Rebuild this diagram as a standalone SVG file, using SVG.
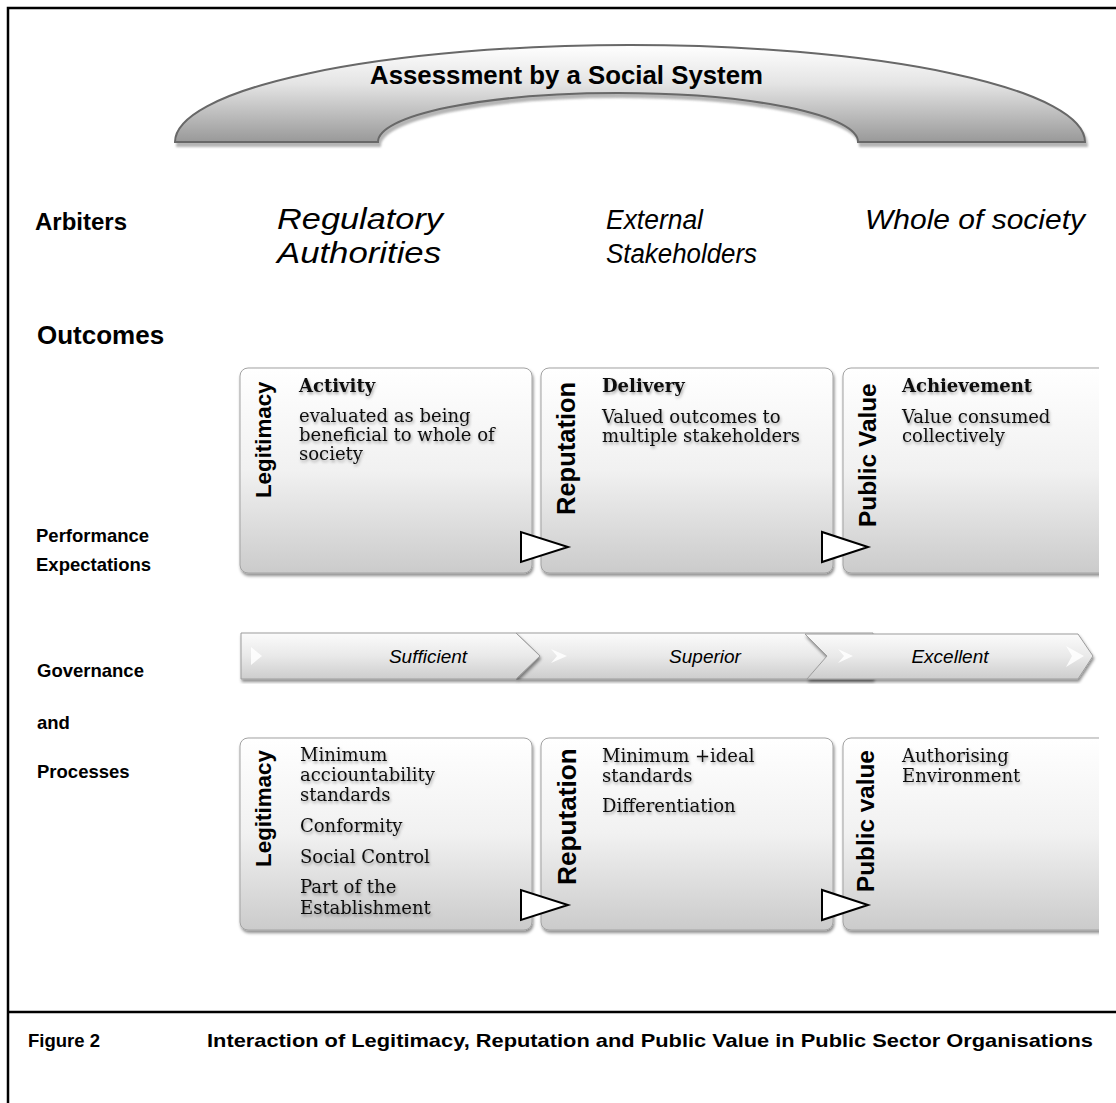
<svg xmlns="http://www.w3.org/2000/svg" width="1116" height="1103" viewBox="0 0 1116 1103">
<defs>
  <linearGradient id="archG" x1="0" y1="0" x2="0" y2="1">
    <stop offset="0" stop-color="#ffffff"/>
    <stop offset="0.4" stop-color="#e4e4e4"/>
    <stop offset="1" stop-color="#999999"/>
  </linearGradient>
  <linearGradient id="boxG" x1="0" y1="0" x2="0" y2="1">
    <stop offset="0" stop-color="#ffffff"/>
    <stop offset="0.5" stop-color="#f1f1f1"/>
    <stop offset="1" stop-color="#cbcbcb"/>
  </linearGradient>
  <linearGradient id="chevG" x1="0" y1="0" x2="0" y2="1">
    <stop offset="0" stop-color="#fbfbfb"/>
    <stop offset="0.5" stop-color="#e9e9e9"/>
    <stop offset="1" stop-color="#cdcdcd"/>
  </linearGradient>
  <filter id="sh" x="-5%" y="-5%" width="112%" height="115%">
    <feDropShadow dx="1" dy="2.5" stdDeviation="1.6" flood-color="#000" flood-opacity="0.45"/>
  </filter>
  <filter id="archSh" x="-5%" y="-10%" width="112%" height="130%">
    <feDropShadow dx="2" dy="4" stdDeviation="0.8" flood-color="#777" flood-opacity="0.55"/>
  </filter>
  <filter id="tsh" x="-10%" y="-30%" width="125%" height="180%">
    <feDropShadow dx="1" dy="2" stdDeviation="1.8" flood-color="#000" flood-opacity="0.35"/>
  </filter>
  <clipPath id="clipR"><rect x="0" y="0" width="1099" height="1103"/></clipPath>
</defs>
<style>
  .sans { font-family: "Liberation Sans", Arial, sans-serif; fill: #000; }
  .b { font-weight: bold; }
  .i { font-style: italic; }
  .vt { font-family: "Liberation Sans", Arial, sans-serif; font-weight: bold; fill: #000; }
  .sr { font-family: "DejaVu Serif", Georgia, serif; font-size: 18px; fill: #111; filter: url(#tsh); }
  .srb { font-weight: bold; }
  .box { fill: url(#boxG); stroke: #a2a2a2; stroke-width: 1; filter: url(#sh); }
  .chev { fill: url(#chevG); stroke: #9c9c9c; stroke-width: 1; filter: url(#sh); }
  .hl { fill: #ffffff; opacity: 0.85; }
  .tri { fill: #ffffff; stroke: #000; stroke-width: 2; stroke-linejoin: miter; }
  .frame { stroke: #000; stroke-width: 2.5; fill: none; }
</style>

<rect x="0" y="0" width="1116" height="1103" fill="#ffffff"/>

<!-- frame -->
<g id="frame">
  <path class="frame" d="M1116,8 H8 V1103"/>
  <path class="frame" d="M8,1012 H1116"/>
</g>

<!-- arch -->
<g id="arch">
  <path d="M175,142 A455,97 0 0 1 1085,142 L858,142 A240,49 0 0 0 378,142 Z" fill="url(#archG)" stroke="#676767" stroke-width="2" filter="url(#archSh)"/>
  <text class="sans b" x="370" y="84" font-size="26" textLength="393" lengthAdjust="spacingAndGlyphs">Assessment by a Social System</text>
</g>

<!-- row labels -->
<g id="row-labels">
  <text class="sans b" x="35" y="230" font-size="24">Arbiters</text>
  <text class="sans b" x="37" y="344" font-size="26">Outcomes</text>
  <text class="sans b" x="36" y="542" font-size="18.5">Performance</text>
  <text class="sans b" x="36" y="571" font-size="18.5">Expectations</text>
  <text class="sans b" x="37" y="677" font-size="18.5">Governance</text>
  <text class="sans b" x="37" y="729" font-size="18.5">and</text>
  <text class="sans b" x="37" y="778" font-size="18.5">Processes</text>
</g>

<g id="arbiters">
  <text class="sans i" x="277" y="229" font-size="29" textLength="166" lengthAdjust="spacingAndGlyphs">Regulatory</text>
  <text class="sans i" x="277" y="263" font-size="29" textLength="164" lengthAdjust="spacingAndGlyphs">Authorities</text>
  <text class="sans i" x="606" y="229" font-size="27" textLength="97" lengthAdjust="spacingAndGlyphs">External</text>
  <text class="sans i" x="606" y="263" font-size="27" textLength="151" lengthAdjust="spacingAndGlyphs">Stakeholders</text>
  <text class="sans i" x="865" y="229" font-size="28" textLength="220" lengthAdjust="spacingAndGlyphs">Whole of society</text>
</g>

<!-- top row boxes -->
<g id="outcome-legitimacy">
  <rect class="box" x="240" y="368" width="292" height="205" rx="8"/>
  <text class="vt" transform="translate(271,498) rotate(-90)" font-size="22.3">Legitimacy</text>
  <text class="sr srb" x="299" y="392">Activity</text>
  <text class="sr" x="299" y="422">evaluated as being</text>
  <text class="sr" x="299" y="441">beneficial to whole of</text>
  <text class="sr" x="299" y="460">society</text>
</g>
<g id="outcome-reputation">
  <rect class="box" x="541" y="368" width="292" height="205" rx="8"/>
  <text class="vt" transform="translate(575,515) rotate(-90)" font-size="25.5">Reputation</text>
  <text class="sr srb" x="602" y="392">Delivery</text>
  <text class="sr" x="602" y="423">Valued outcomes to</text>
  <text class="sr" x="602" y="442">multiple stakeholders</text>
</g>
<g id="outcome-public-value" clip-path="url(#clipR)">
  <rect class="box" x="843" y="368" width="292" height="205" rx="8"/>
  <text class="vt" transform="translate(876,527) rotate(-90)" font-size="24.4">Public Value</text>
  <text class="sr srb" x="902" y="392">Achievement</text>
  <text class="sr" x="902" y="423">Value consumed</text>
  <text class="sr" x="902" y="442">collectively</text>
</g>

<!-- chevron band -->
<g id="chevron-superior">
  <path class="chev" d="M516,633 H873 V679 H516 L540,656 Z"/>
  <polygon class="hl" points="551,649 567,656 551,663 557,656"/>
  <text class="sans i" x="705" y="663" font-size="19" text-anchor="middle">Superior</text>
</g>
<g id="chevron-sufficient">
  <path class="chev" d="M241,633 H516 L540,656 L516,679 H241 Z"/>
  <polygon class="hl" points="251,647 262,656 251,665"/>
  <text class="sans i" x="428" y="663" font-size="19" text-anchor="middle">Sufficient</text>
</g>
<g id="chevron-excellent">
  <path class="chev" d="M805,634 H1078 L1093,656 L1078,679 H807 L827,656 Z"/>
  <polygon class="hl" points="838,649 853,656 838,663 844,656"/>
  <polygon class="hl" points="1066,646 1084,656 1066,667 1072,656" opacity="0.6"/>
  <text class="sans i" x="950" y="663" font-size="19" text-anchor="middle">Excellent</text>
</g>

<!-- bottom row boxes -->
<g id="process-legitimacy">
  <rect class="box" x="240" y="738" width="292" height="192" rx="8"/>
  <text class="vt" transform="translate(271,867) rotate(-90)" font-size="22.4">Legitimacy</text>
  <text class="sr" x="300" y="761">Minimum</text>
  <text class="sr" x="300" y="781">acciountability</text>
  <text class="sr" x="300" y="801">standards</text>
  <text class="sr" x="300" y="832">Conformity</text>
  <text class="sr" x="300" y="863">Social Control</text>
  <text class="sr" x="300" y="893">Part of the</text>
  <text class="sr" x="300" y="914">Establishment</text>
</g>
<g id="process-reputation">
  <rect class="box" x="541" y="738" width="292" height="192" rx="8"/>
  <text class="vt" transform="translate(576,885) rotate(-90)" font-size="26.2">Reputation</text>
  <text class="sr" x="602" y="762">Minimum +ideal</text>
  <text class="sr" x="602" y="782">standards</text>
  <text class="sr" x="602" y="812">Differentiation</text>
</g>
<g id="process-public-value" clip-path="url(#clipR)">
  <rect class="box" x="843" y="738" width="292" height="192" rx="8"/>
  <text class="vt" transform="translate(874,892) rotate(-90)" font-size="24.3">Public value</text>
  <text class="sr" x="902" y="762">Authorising</text>
  <text class="sr" x="902" y="782">Environment</text>
</g>

<!-- connectors (arrow triangles) -->
<g id="connectors">
  <polygon class="tri" points="521,532 521,562 568,547"/>
  <polygon class="tri" points="822,532 822,562 868,547"/>
  <polygon class="tri" points="521,890 521,920 568,905"/>
  <polygon class="tri" points="822,890 822,920 868,905"/>
</g>

<!-- caption -->
<g id="caption">
  <text class="sans b" x="28" y="1047" font-size="18.5">Figure 2</text>
  <text class="sans b" x="207" y="1047" font-size="18.5" textLength="886" lengthAdjust="spacingAndGlyphs">Interaction of Legitimacy, Reputation and Public Value in Public Sector Organisations</text>
</g>
</svg>
